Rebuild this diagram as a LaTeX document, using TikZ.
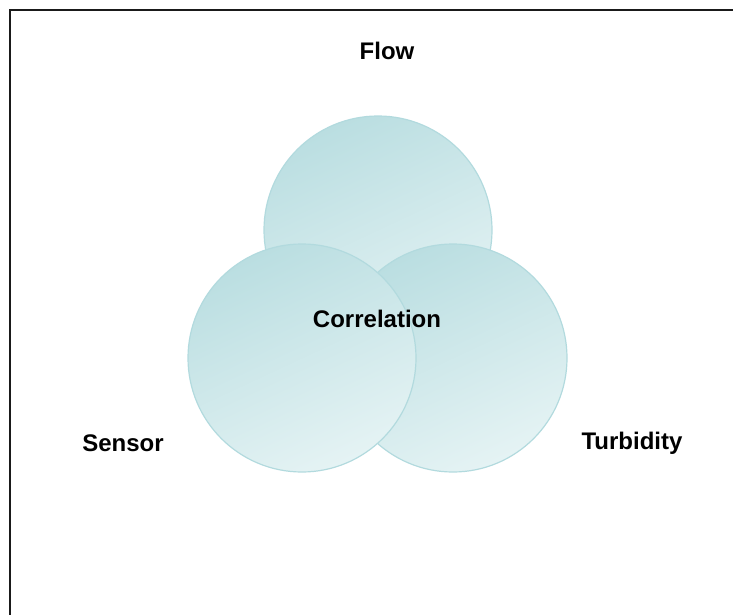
\documentclass[tikz,border=0pt]{standalone}
\usepackage{fontspec}
\setmainfont{Liberation Sans}
\usepackage{tikz}
\usetikzlibrary{
  positioning,
  calc,
  backgrounds
}
\definecolor{vnDark}{HTML}{BADEE1}
\definecolor{vnLight}{HTML}{E5F3F4}
\definecolor{vnEdge}{HTML}{B2DADE}
\definecolor{vnFrame}{HTML}{1A1A1A}

\tikzset{
  bubble/.style={circle, minimum size=228pt, inner sep=0pt, draw=vnEdge, line width=1.2pt,
    left color=vnDark, right color=vnLight, shading angle=25},
  setlabel/.style={font=\fontsize{24}{26}\selectfont\bfseries, inner sep=0pt}
}

\begin{document}
\begin{tikzpicture}[x=1pt, y=-1pt]
  \useasboundingbox (0,0) rectangle (733,615);
  \draw[vnFrame, line width=2.5pt] (10,615) -- (10,10) -- (733,10);
  % circles, top first, left one last
  \foreach \x/\y/\name in {378/230/flowc, 453/358/turbc, 302/358/sensc}{
    \node[bubble] (\name) at (\x,\y) {};
  }
  \node[setlabel] (flow) at (387,51) {Flow};
  \node[setlabel] (corr) at (377,319) {Correlation};
  \node[setlabel] (sens) at (123,443) {Sensor};
  \node[setlabel] (turb) at (632,443) {Turbidity};
\end{tikzpicture}
\end{document}
